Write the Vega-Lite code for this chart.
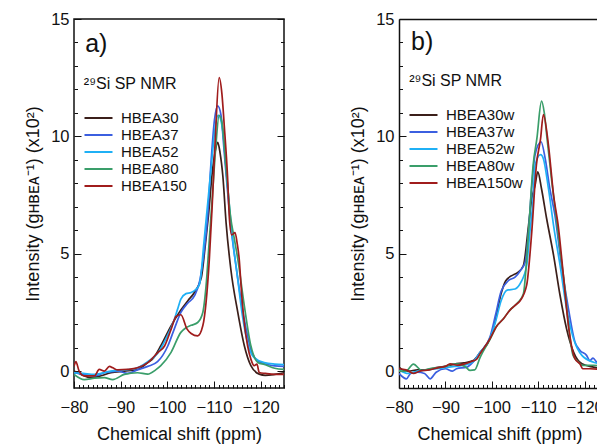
{
"$schema": "https://vega.github.io/schema/vega-lite/v6.json",
"padding": {"left": 23, "top": 10, "right": 0, "bottom": 0},
"config": {
  "font": "Liberation Sans",
  "view": {"stroke": null},
  "axis": {"grid": false, "labelFontSize": 16.5, "titleFontSize": 18, "titleFontWeight": "normal", "labelColor": "#111", "titleColor": "#111", "tickColor": "#111", "domainColor": "#111", "domainWidth": 1.5, "tickWidth": 1, "labelOverlap": false, "labelFlush": false, "labelBound": false},
  "legend": {"orient": "none", "symbolType": "M-2.8,0H2.8", "symbolSize": 100, "symbolStrokeWidth": 2, "labelFontSize": 15, "labelOffset": 15, "rowPadding": 1, "padding": 0, "labelColor": "#111", "title": null},
  "concat": {"spacing": 63}
},
"datasets": {
"a": [
{"sample":"HBEA30","shift":-80,"intensity":0},{"sample":"HBEA30","shift":-81.5,"intensity":-0.14},{"sample":"HBEA30","shift":-83.6,"intensity":-0.28},{"sample":"HBEA30","shift":-85.8,"intensity":-0.2},{"sample":"HBEA30","shift":-87.9,"intensity":-0.07},{"sample":"HBEA30","shift":-90.8,"intensity":0},{"sample":"HBEA30","shift":-93.6,"intensity":0.07},{"sample":"HBEA30","shift":-95.8,"intensity":0.36},{"sample":"HBEA30","shift":-97,"intensity":0.55},{"sample":"HBEA30","shift":-98.6,"intensity":1.08},{"sample":"HBEA30","shift":-100.8,"intensity":1.93},{"sample":"HBEA30","shift":-102.9,"intensity":2.6},{"sample":"HBEA30","shift":-104.4,"intensity":3.0},{"sample":"HBEA30","shift":-105.8,"intensity":3.35},{"sample":"HBEA30","shift":-107.3,"intensity":4.0},{"sample":"HBEA30","shift":-108.1,"intensity":5.3},{"sample":"HBEA30","shift":-108.8,"intensity":6.6},{"sample":"HBEA30","shift":-109.7,"intensity":8.6},{"sample":"HBEA30","shift":-110.3,"intensity":9.4},{"sample":"HBEA30","shift":-110.8,"intensity":9.74},{"sample":"HBEA30","shift":-111.3,"intensity":9.3},{"sample":"HBEA30","shift":-111.9,"intensity":8.3},{"sample":"HBEA30","shift":-112.6,"intensity":6.3},{"sample":"HBEA30","shift":-113.6,"intensity":4.35},{"sample":"HBEA30","shift":-115.1,"intensity":2.5},{"sample":"HBEA30","shift":-116.5,"intensity":1.08},{"sample":"HBEA30","shift":-117.9,"intensity":0.23},{"sample":"HBEA30","shift":-119.7,"intensity":-0.13},{"sample":"HBEA30","shift":-121,"intensity":-0.18},{"sample":"HBEA30","shift":-123,"intensity":-0.14},{"sample":"HBEA30","shift":-125,"intensity":-0.07},
{"sample":"HBEA37","shift":-80,"intensity":-0.07},{"sample":"HBEA37","shift":-82,"intensity":-0.14},{"sample":"HBEA37","shift":-84.4,"intensity":-0.2},{"sample":"HBEA37","shift":-86.5,"intensity":-0.07},{"sample":"HBEA37","shift":-89.4,"intensity":0},{"sample":"HBEA37","shift":-91.5,"intensity":-0.1},{"sample":"HBEA37","shift":-93.6,"intensity":0.05},{"sample":"HBEA37","shift":-95.8,"intensity":0.2},{"sample":"HBEA37","shift":-97.9,"intensity":0.4},{"sample":"HBEA37","shift":-100.1,"intensity":1.07},{"sample":"HBEA37","shift":-101.5,"intensity":1.8},{"sample":"HBEA37","shift":-102.9,"intensity":2.5},{"sample":"HBEA37","shift":-104.4,"intensity":2.9},{"sample":"HBEA37","shift":-105.8,"intensity":3.2},{"sample":"HBEA37","shift":-107,"intensity":3.9},{"sample":"HBEA37","shift":-108,"intensity":5.3},{"sample":"HBEA37","shift":-108.6,"intensity":6.5},{"sample":"HBEA37","shift":-109.4,"intensity":9.0},{"sample":"HBEA37","shift":-110.1,"intensity":10.7},{"sample":"HBEA37","shift":-110.8,"intensity":11.3},{"sample":"HBEA37","shift":-111.5,"intensity":10.9},{"sample":"HBEA37","shift":-112.2,"intensity":9.3},{"sample":"HBEA37","shift":-112.8,"intensity":7.9},{"sample":"HBEA37","shift":-113.6,"intensity":6.2},{"sample":"HBEA37","shift":-114.7,"intensity":4.5},{"sample":"HBEA37","shift":-115.8,"intensity":3.0},{"sample":"HBEA37","shift":-116.9,"intensity":1.78},{"sample":"HBEA37","shift":-117.9,"intensity":0.92},{"sample":"HBEA37","shift":-119.4,"intensity":0.43},{"sample":"HBEA37","shift":-121.5,"intensity":0.28},{"sample":"HBEA37","shift":-123,"intensity":0.22},{"sample":"HBEA37","shift":-125,"intensity":0.2},
{"sample":"HBEA52","shift":-80,"intensity":-0.07},{"sample":"HBEA52","shift":-82,"intensity":-0.1},{"sample":"HBEA52","shift":-84.4,"intensity":-0.14},{"sample":"HBEA52","shift":-87.9,"intensity":0},{"sample":"HBEA52","shift":-91,"intensity":0.05},{"sample":"HBEA52","shift":-93,"intensity":0.1},{"sample":"HBEA52","shift":-95.8,"intensity":0.4},{"sample":"HBEA52","shift":-97.9,"intensity":0.75},{"sample":"HBEA52","shift":-100,"intensity":1.5},{"sample":"HBEA52","shift":-101.5,"intensity":2.2},{"sample":"HBEA52","shift":-102.2,"intensity":2.64},{"sample":"HBEA52","shift":-102.9,"intensity":3.07},{"sample":"HBEA52","shift":-104,"intensity":3.3},{"sample":"HBEA52","shift":-105.1,"intensity":3.35},{"sample":"HBEA52","shift":-106.2,"intensity":3.5},{"sample":"HBEA52","shift":-106.9,"intensity":3.7},{"sample":"HBEA52","shift":-107.9,"intensity":5.6},{"sample":"HBEA52","shift":-109.4,"intensity":8.7},{"sample":"HBEA52","shift":-110.4,"intensity":10.6},{"sample":"HBEA52","shift":-110.9,"intensity":10.9},{"sample":"HBEA52","shift":-111.9,"intensity":10.2},{"sample":"HBEA52","shift":-112.9,"intensity":7.9},{"sample":"HBEA52","shift":-114,"intensity":5.6},{"sample":"HBEA52","shift":-115.1,"intensity":3.9},{"sample":"HBEA52","shift":-116.1,"intensity":2.34},{"sample":"HBEA52","shift":-117.2,"intensity":1.2},{"sample":"HBEA52","shift":-118.6,"intensity":0.57},{"sample":"HBEA52","shift":-120.8,"intensity":0.36},{"sample":"HBEA52","shift":-123,"intensity":0.3},{"sample":"HBEA52","shift":-125,"intensity":0.28},
{"sample":"HBEA80","shift":-80,"intensity":-0.14},{"sample":"HBEA80","shift":-82.2,"intensity":-0.36},{"sample":"HBEA80","shift":-84.4,"intensity":-0.3},{"sample":"HBEA80","shift":-86.5,"intensity":-0.28},{"sample":"HBEA80","shift":-88.3,"intensity":-0.36},{"sample":"HBEA80","shift":-90.8,"intensity":-0.14},{"sample":"HBEA80","shift":-93.6,"intensity":-0.07},{"sample":"HBEA80","shift":-95.8,"intensity":-0.13},{"sample":"HBEA80","shift":-97.5,"intensity":0.05},{"sample":"HBEA80","shift":-98.6,"intensity":0.23},{"sample":"HBEA80","shift":-100.8,"intensity":0.8},{"sample":"HBEA80","shift":-102.9,"intensity":1.65},{"sample":"HBEA80","shift":-104,"intensity":1.85},{"sample":"HBEA80","shift":-105.1,"intensity":1.95},{"sample":"HBEA80","shift":-106.5,"intensity":2.07},{"sample":"HBEA80","shift":-107.6,"intensity":2.5},{"sample":"HBEA80","shift":-108.3,"intensity":3.63},{"sample":"HBEA80","shift":-109,"intensity":5.6},{"sample":"HBEA80","shift":-109.7,"intensity":7.6},{"sample":"HBEA80","shift":-110.4,"intensity":9.6},{"sample":"HBEA80","shift":-111.1,"intensity":10.9},{"sample":"HBEA80","shift":-111.7,"intensity":10.6},{"sample":"HBEA80","shift":-112.6,"intensity":8.6},{"sample":"HBEA80","shift":-113.6,"intensity":6.5},{"sample":"HBEA80","shift":-114.3,"intensity":5.7},{"sample":"HBEA80","shift":-115.1,"intensity":4.77},{"sample":"HBEA80","shift":-116.5,"intensity":2.78},{"sample":"HBEA80","shift":-117.9,"intensity":1.08},{"sample":"HBEA80","shift":-119.4,"intensity":0.37},{"sample":"HBEA80","shift":-120.8,"intensity":0.28},{"sample":"HBEA80","shift":-123,"intensity":0.12},{"sample":"HBEA80","shift":-125,"intensity":0.07},
{"sample":"HBEA150","shift":-80,"intensity":0.2},{"sample":"HBEA150","shift":-80.4,"intensity":0.4},{"sample":"HBEA150","shift":-81.1,"intensity":0},{"sample":"HBEA150","shift":-82.2,"intensity":-0.2},{"sample":"HBEA150","shift":-84.4,"intensity":-0.2},{"sample":"HBEA150","shift":-85.4,"intensity":0.07},{"sample":"HBEA150","shift":-86.5,"intensity":0},{"sample":"HBEA150","shift":-87.6,"intensity":0.2},{"sample":"HBEA150","shift":-88.3,"intensity":0.14},{"sample":"HBEA150","shift":-89.4,"intensity":0.05},{"sample":"HBEA150","shift":-91.5,"intensity":0.07},{"sample":"HBEA150","shift":-93.6,"intensity":0.14},{"sample":"HBEA150","shift":-95.8,"intensity":0.36},{"sample":"HBEA150","shift":-97.9,"intensity":0.78},{"sample":"HBEA150","shift":-99.4,"intensity":1.07},{"sample":"HBEA150","shift":-100.8,"intensity":1.78},{"sample":"HBEA150","shift":-101.9,"intensity":2.34},{"sample":"HBEA150","shift":-102.9,"intensity":2.4},{"sample":"HBEA150","shift":-104.2,"intensity":1.8},{"sample":"HBEA150","shift":-105.1,"intensity":1.6},{"sample":"HBEA150","shift":-106.5,"intensity":1.5},{"sample":"HBEA150","shift":-107.6,"intensity":1.93},{"sample":"HBEA150","shift":-108.3,"intensity":2.93},{"sample":"HBEA150","shift":-109,"intensity":4.77},{"sample":"HBEA150","shift":-109.6,"intensity":7.0},{"sample":"HBEA150","shift":-110.3,"intensity":10.0},{"sample":"HBEA150","shift":-111.1,"intensity":12.5},{"sample":"HBEA150","shift":-111.7,"intensity":11.8},{"sample":"HBEA150","shift":-112.2,"intensity":10.45},{"sample":"HBEA150","shift":-112.9,"intensity":8.3},{"sample":"HBEA150","shift":-113.3,"intensity":6.5},{"sample":"HBEA150","shift":-113.8,"intensity":5.8},{"sample":"HBEA150","shift":-114.5,"intensity":5.9},{"sample":"HBEA150","shift":-115,"intensity":5.4},{"sample":"HBEA150","shift":-115.4,"intensity":4.77},{"sample":"HBEA150","shift":-115.8,"intensity":3.63},{"sample":"HBEA150","shift":-116.3,"intensity":2.4},{"sample":"HBEA150","shift":-117.2,"intensity":1.08},{"sample":"HBEA150","shift":-117.9,"intensity":0.51},{"sample":"HBEA150","shift":-118.6,"intensity":0.23},{"sample":"HBEA150","shift":-119.2,"intensity":0.3},{"sample":"HBEA150","shift":-119.7,"intensity":-0.06},{"sample":"HBEA150","shift":-121,"intensity":-0.1},{"sample":"HBEA150","shift":-123,"intensity":-0.14},{"sample":"HBEA150","shift":-125,"intensity":-0.14}
],
"b": [
{"sample":"HBEA30w","shift":-80,"intensity":0.17},{"sample":"HBEA30w","shift":-80.8,"intensity":0.05},{"sample":"HBEA30w","shift":-82,"intensity":0},{"sample":"HBEA30w","shift":-84,"intensity":0.05},{"sample":"HBEA30w","shift":-86,"intensity":0.05},{"sample":"HBEA30w","shift":-88,"intensity":0.15},{"sample":"HBEA30w","shift":-90,"intensity":0.2},{"sample":"HBEA30w","shift":-92,"intensity":0.3},{"sample":"HBEA30w","shift":-94,"intensity":0.35},{"sample":"HBEA30w","shift":-96,"intensity":0.45},{"sample":"HBEA30w","shift":-97.5,"intensity":0.8},{"sample":"HBEA30w","shift":-99.6,"intensity":1.38},{"sample":"HBEA30w","shift":-100.8,"intensity":2.2},{"sample":"HBEA30w","shift":-102,"intensity":3.3},{"sample":"HBEA30w","shift":-103,"intensity":3.85},{"sample":"HBEA30w","shift":-104.6,"intensity":4.1},{"sample":"HBEA30w","shift":-105.6,"intensity":4.2},{"sample":"HBEA30w","shift":-106.8,"intensity":4.5},{"sample":"HBEA30w","shift":-107.9,"intensity":6.2},{"sample":"HBEA30w","shift":-108.6,"intensity":7.35},{"sample":"HBEA30w","shift":-109.3,"intensity":7.9},{"sample":"HBEA30w","shift":-109.9,"intensity":8.49},{"sample":"HBEA30w","shift":-110.7,"intensity":7.77},{"sample":"HBEA30w","shift":-111.8,"intensity":6.5},{"sample":"HBEA30w","shift":-113.3,"intensity":4.93},{"sample":"HBEA30w","shift":-114.7,"intensity":3.22},{"sample":"HBEA30w","shift":-116.1,"intensity":1.8},{"sample":"HBEA30w","shift":-117.6,"intensity":0.81},{"sample":"HBEA30w","shift":-119.4,"intensity":0.31},{"sample":"HBEA30w","shift":-121.9,"intensity":0.17},{"sample":"HBEA30w","shift":-124,"intensity":0.1},
{"sample":"HBEA37w","shift":-80,"intensity":-0.1},{"sample":"HBEA37w","shift":-81.6,"intensity":-0.33},{"sample":"HBEA37w","shift":-82.5,"intensity":-0.1},{"sample":"HBEA37w","shift":-84,"intensity":-0.05},{"sample":"HBEA37w","shift":-85.5,"intensity":-0.1},{"sample":"HBEA37w","shift":-86.7,"intensity":-0.33},{"sample":"HBEA37w","shift":-88,"intensity":-0.05},{"sample":"HBEA37w","shift":-90,"intensity":0.1},{"sample":"HBEA37w","shift":-91.5,"intensity":0},{"sample":"HBEA37w","shift":-92.4,"intensity":0.1},{"sample":"HBEA37w","shift":-94.6,"intensity":0.17},{"sample":"HBEA37w","shift":-96,"intensity":0.4},{"sample":"HBEA37w","shift":-97.5,"intensity":0.8},{"sample":"HBEA37w","shift":-99.6,"intensity":1.45},{"sample":"HBEA37w","shift":-100.8,"intensity":2.4},{"sample":"HBEA37w","shift":-102,"intensity":3.4},{"sample":"HBEA37w","shift":-103.6,"intensity":3.86},{"sample":"HBEA37w","shift":-105,"intensity":4.0},{"sample":"HBEA37w","shift":-106.2,"intensity":4.3},{"sample":"HBEA37w","shift":-107.2,"intensity":4.65},{"sample":"HBEA37w","shift":-107.9,"intensity":5.93},{"sample":"HBEA37w","shift":-108.4,"intensity":7.35},{"sample":"HBEA37w","shift":-109.3,"intensity":9.2},{"sample":"HBEA37w","shift":-110.6,"intensity":9.77},{"sample":"HBEA37w","shift":-111.5,"intensity":9.05},{"sample":"HBEA37w","shift":-112.5,"intensity":7.77},{"sample":"HBEA37w","shift":-113.6,"intensity":6.63},{"sample":"HBEA37w","shift":-115,"intensity":4.5},{"sample":"HBEA37w","shift":-116.5,"intensity":2.66},{"sample":"HBEA37w","shift":-117.9,"intensity":1.24},{"sample":"HBEA37w","shift":-119,"intensity":0.88},{"sample":"HBEA37w","shift":-120.4,"intensity":0.67},{"sample":"HBEA37w","shift":-121.1,"intensity":0.45},{"sample":"HBEA37w","shift":-121.8,"intensity":0.55},{"sample":"HBEA37w","shift":-122.6,"intensity":0.38},{"sample":"HBEA37w","shift":-124,"intensity":0.25},
{"sample":"HBEA52w","shift":-80,"intensity":0.05},{"sample":"HBEA52w","shift":-82,"intensity":-0.1},{"sample":"HBEA52w","shift":-84,"intensity":0},{"sample":"HBEA52w","shift":-86,"intensity":0.05},{"sample":"HBEA52w","shift":-88,"intensity":0.1},{"sample":"HBEA52w","shift":-90,"intensity":0.15},{"sample":"HBEA52w","shift":-92,"intensity":0.2},{"sample":"HBEA52w","shift":-94,"intensity":0.25},{"sample":"HBEA52w","shift":-96,"intensity":0.4},{"sample":"HBEA52w","shift":-97.5,"intensity":0.8},{"sample":"HBEA52w","shift":-99.6,"intensity":1.4},{"sample":"HBEA52w","shift":-100.8,"intensity":2.1},{"sample":"HBEA52w","shift":-102,"intensity":3.0},{"sample":"HBEA52w","shift":-103.3,"intensity":3.45},{"sample":"HBEA52w","shift":-105,"intensity":3.5},{"sample":"HBEA52w","shift":-106.3,"intensity":3.8},{"sample":"HBEA52w","shift":-107.5,"intensity":4.5},{"sample":"HBEA52w","shift":-108.2,"intensity":5.93},{"sample":"HBEA52w","shift":-108.9,"intensity":7.35},{"sample":"HBEA52w","shift":-109.3,"intensity":8.77},{"sample":"HBEA52w","shift":-110.5,"intensity":9.22},{"sample":"HBEA52w","shift":-111.1,"intensity":9.05},{"sample":"HBEA52w","shift":-112.2,"intensity":7.77},{"sample":"HBEA52w","shift":-113.3,"intensity":6.2},{"sample":"HBEA52w","shift":-114.7,"intensity":4.5},{"sample":"HBEA52w","shift":-116.1,"intensity":2.66},{"sample":"HBEA52w","shift":-117.6,"intensity":1.38},{"sample":"HBEA52w","shift":-119.4,"intensity":0.67},{"sample":"HBEA52w","shift":-121.9,"intensity":0.38},{"sample":"HBEA52w","shift":-124,"intensity":0.3},
{"sample":"HBEA80w","shift":-80,"intensity":0},{"sample":"HBEA80w","shift":-81.5,"intensity":0},{"sample":"HBEA80w","shift":-83.1,"intensity":0.3},{"sample":"HBEA80w","shift":-84.9,"intensity":0.03},{"sample":"HBEA80w","shift":-86.5,"intensity":0.1},{"sample":"HBEA80w","shift":-88.5,"intensity":0.15},{"sample":"HBEA80w","shift":-90,"intensity":0.2},{"sample":"HBEA80w","shift":-91.5,"intensity":0.3},{"sample":"HBEA80w","shift":-93,"intensity":0.3},{"sample":"HBEA80w","shift":-94.5,"intensity":0.15},{"sample":"HBEA80w","shift":-95.3,"intensity":0.03},{"sample":"HBEA80w","shift":-96.3,"intensity":0.05},{"sample":"HBEA80w","shift":-97.5,"intensity":0.6},{"sample":"HBEA80w","shift":-99.6,"intensity":1.35},{"sample":"HBEA80w","shift":-101,"intensity":1.9},{"sample":"HBEA80w","shift":-102.5,"intensity":2.23},{"sample":"HBEA80w","shift":-103.9,"intensity":2.6},{"sample":"HBEA80w","shift":-105,"intensity":2.8},{"sample":"HBEA80w","shift":-105.7,"intensity":2.94},{"sample":"HBEA80w","shift":-106.8,"intensity":3.3},{"sample":"HBEA80w","shift":-107.9,"intensity":5.93},{"sample":"HBEA80w","shift":-108.9,"intensity":8.78},{"sample":"HBEA80w","shift":-109.7,"intensity":9.9},{"sample":"HBEA80w","shift":-110.7,"intensity":11.5},{"sample":"HBEA80w","shift":-111.3,"intensity":11.0},{"sample":"HBEA80w","shift":-111.9,"intensity":9.9},{"sample":"HBEA80w","shift":-112.9,"intensity":8.1},{"sample":"HBEA80w","shift":-113.9,"intensity":6.5},{"sample":"HBEA80w","shift":-114.8,"intensity":5.0},{"sample":"HBEA80w","shift":-115.7,"intensity":3.6},{"sample":"HBEA80w","shift":-116.6,"intensity":1.8},{"sample":"HBEA80w","shift":-117.5,"intensity":0.67},{"sample":"HBEA80w","shift":-118.6,"intensity":0.4},{"sample":"HBEA80w","shift":-119.6,"intensity":0.24},{"sample":"HBEA80w","shift":-121.9,"intensity":0.25},{"sample":"HBEA80w","shift":-124,"intensity":0.17},
{"sample":"HBEA150w","shift":-80,"intensity":0.1},{"sample":"HBEA150w","shift":-81.5,"intensity":0.05},{"sample":"HBEA150w","shift":-83.1,"intensity":-0.1},{"sample":"HBEA150w","shift":-84.5,"intensity":0},{"sample":"HBEA150w","shift":-86.5,"intensity":0.05},{"sample":"HBEA150w","shift":-88.5,"intensity":0.15},{"sample":"HBEA150w","shift":-90,"intensity":0.2},{"sample":"HBEA150w","shift":-91,"intensity":0.31},{"sample":"HBEA150w","shift":-92.5,"intensity":0.25},{"sample":"HBEA150w","shift":-94,"intensity":0.3},{"sample":"HBEA150w","shift":-95.5,"intensity":0.4},{"sample":"HBEA150w","shift":-96.7,"intensity":0.5},{"sample":"HBEA150w","shift":-97.5,"intensity":0.75},{"sample":"HBEA150w","shift":-99.6,"intensity":1.38},{"sample":"HBEA150w","shift":-101,"intensity":1.9},{"sample":"HBEA150w","shift":-102.5,"intensity":2.23},{"sample":"HBEA150w","shift":-103.9,"intensity":2.6},{"sample":"HBEA150w","shift":-105,"intensity":2.8},{"sample":"HBEA150w","shift":-106.1,"intensity":3.0},{"sample":"HBEA150w","shift":-107.5,"intensity":3.66},{"sample":"HBEA150w","shift":-108.6,"intensity":5.93},{"sample":"HBEA150w","shift":-109.6,"intensity":8.78},{"sample":"HBEA150w","shift":-110.5,"intensity":9.9},{"sample":"HBEA150w","shift":-111.1,"intensity":10.93},{"sample":"HBEA150w","shift":-112.2,"intensity":9.62},{"sample":"HBEA150w","shift":-113.3,"intensity":7.49},{"sample":"HBEA150w","shift":-114.3,"intensity":6.2},{"sample":"HBEA150w","shift":-115.4,"intensity":4.1},{"sample":"HBEA150w","shift":-116.4,"intensity":2.1},{"sample":"HBEA150w","shift":-117.9,"intensity":0.53},{"sample":"HBEA150w","shift":-119,"intensity":0.3},{"sample":"HBEA150w","shift":-119.6,"intensity":0.1},{"sample":"HBEA150w","shift":-121.1,"intensity":0.1},{"sample":"HBEA150w","shift":-124,"intensity":0.05}
]
},
"hconcat": [
{
  "width": 210, "height": 369,
  "view": {"stroke": "#111", "strokeWidth": 1.5},
  "layer": [
    {
      "data": {"name": "a"},
      "mark": {"type": "line", "strokeWidth": 1.7, "interpolate": "monotone", "clip": true},
      "encoding": {
        "x": {"field": "shift", "type": "quantitative",
              "scale": {"domain": [-125, -80], "reverse": true, "nice": false, "zero": false},
              "axis": {"orient": "bottom", "title": "Chemical shift (ppm)", "domain": false, "titlePadding": 6, "labelPadding": 18,
                       "values": [-80,-81,-82,-83,-84,-85,-86,-87,-88,-89,-90,-91,-92,-93,-94,-95,-96,-97,-98,-99,-100,-101,-102,-103,-104,-105,-106,-107,-108,-109,-110,-111,-112,-113,-114,-115,-116,-117,-118,-119,-120,-121,-122,-123,-124,-125],
                       "tickSize": {"condition": {"test": "datum.value % 10 === 0", "value": -7}, "value": -3.5},
                       "labelExpr": "datum.value % 10 === 0 ? datum.label : ''"}},
        "y": {"field": "intensity", "type": "quantitative",
              "scale": {"domain": [-0.72, 15], "nice": false, "zero": false},
              "axis": {"orient": "left", "title": "Intensity (g\u029c\u0299\u1d07\u1d00\u207b\u00b9) (x10\u00b2)", "domain": false, "labelPadding": 12, "titlePadding": 8,
                       "values": [0,1,2,3,4,5,6,7,8,9,10,11,12,13,14,15],
                       "tickSize": {"condition": {"test": "datum.value % 5 === 0", "value": -7}, "value": -3.5},
                       "labelExpr": "datum.value % 5 === 0 ? datum.label : ''"}},
        "color": {"field": "sample", "type": "nominal",
                  "scale": {"domain": ["HBEA30","HBEA37","HBEA52","HBEA80","HBEA150"], "range": ["#3b1f1a","#3b5fe0","#1fb0f5","#3a9e6a","#a01c1c"]},
                  "legend": {"orient": "none", "legendX": 17, "legendY": 91.5}}
      }
    },
    {
      "data": {"name": "a"},
      "mark": {"type": "rule", "opacity": 0},
      "encoding": {
        "y": {"field": "intensity", "type": "quantitative",
              "axis": {"orient": "right", "title": null, "labels": false, "domain": false,
                       "values": [0,1,2,3,4,5,6,7,8,9,10,11,12,13,14,15],
                       "tickSize": {"condition": {"test": "datum.value % 5 === 0", "value": -7}, "value": -3.5}}}
      }
    },
    {
      "data": {"values": [{"label": "a)"}]},
      "mark": {"type": "text", "fontSize": 25, "align": "left", "baseline": "alphabetic", "color": "#111"},
      "encoding": {"text": {"field": "label"}, "x": {"datum": -82.4, "axis": null}, "y": {"datum": 13.6, "axis": null}}
    },
    {
      "data": {"values": [{"label": "\u00b2\u2079Si SP NMR"}]},
      "mark": {"type": "text", "fontSize": 16, "align": "left", "baseline": "alphabetic", "color": "#111"},
      "encoding": {"text": {"field": "label"}, "x": {"datum": -82.1, "axis": null}, "y": {"datum": 12.0, "axis": null}}
    }
  ],
  "resolve": {"axis": {"x": "independent", "y": "independent"}}
},
{
  "width": 201, "height": 369,
  "layer": [
    {
      "data": {"name": "b"},
      "mark": {"type": "line", "strokeWidth": 1.7, "interpolate": "monotone", "clip": true},
      "encoding": {
        "x": {"field": "shift", "type": "quantitative",
              "scale": {"domain": [-123.3, -80], "reverse": true, "nice": false, "zero": false},
              "axis": {"orient": "bottom", "title": "Chemical shift (ppm)", "domain": true, "titlePadding": 6, "labelPadding": 18,
                       "values": [-80,-81,-82,-83,-84,-85,-86,-87,-88,-89,-90,-91,-92,-93,-94,-95,-96,-97,-98,-99,-100,-101,-102,-103,-104,-105,-106,-107,-108,-109,-110,-111,-112,-113,-114,-115,-116,-117,-118,-119,-120,-121,-122,-123],
                       "tickSize": {"condition": {"test": "datum.value % 10 === 0", "value": -7}, "value": -3.5},
                       "labelExpr": "datum.value % 10 === 0 ? datum.label : ''"}},
        "y": {"field": "intensity", "type": "quantitative",
              "scale": {"domain": [-0.72, 15], "nice": false, "zero": false},
              "axis": {"orient": "left", "title": "Intensity (g\u029c\u0299\u1d07\u1d00\u207b\u00b9) (x10\u00b2)", "domain": true, "labelPadding": 12, "titlePadding": 8,
                       "values": [0,1,2,3,4,5,6,7,8,9,10,11,12,13,14,15],
                       "tickSize": {"condition": {"test": "datum.value % 5 === 0", "value": -7}, "value": -3.5},
                       "labelExpr": "datum.value % 5 === 0 ? datum.label : ''"}},
        "color": {"field": "sample", "type": "nominal",
                  "scale": {"domain": ["HBEA30w","HBEA37w","HBEA52w","HBEA80w","HBEA150w"], "range": ["#3b1f1a","#3b5fe0","#1fb0f5","#3a9e6a","#a01c1c"]},
                  "legend": {"orient": "none", "legendX": 17, "legendY": 88.5}}
      }
    },
    {
      "data": {"name": "b"},
      "mark": {"type": "rule", "opacity": 0},
      "encoding": {
        "x": {"field": "shift", "type": "quantitative",
              "axis": {"orient": "top", "title": null, "labels": false, "ticks": false, "domain": true}}
      }
    },
    {
      "data": {"values": [{"label": "b)"}]},
      "mark": {"type": "text", "fontSize": 25, "align": "left", "baseline": "alphabetic", "color": "#111"},
      "encoding": {"text": {"field": "label"}, "x": {"datum": -82.6, "axis": null}, "y": {"datum": 13.7, "axis": null}}
    },
    {
      "data": {"values": [{"label": "\u00b2\u2079Si SP NMR"}]},
      "mark": {"type": "text", "fontSize": 16, "align": "left", "baseline": "alphabetic", "color": "#111"},
      "encoding": {"text": {"field": "label"}, "x": {"datum": -82.2, "axis": null}, "y": {"datum": 12.15, "axis": null}}
    }
  ],
  "resolve": {"axis": {"x": "independent", "y": "independent"}}
}
],
"resolve": {"scale": {"color": "independent"}}
}
